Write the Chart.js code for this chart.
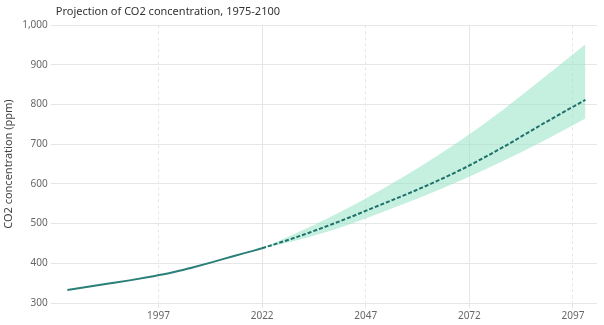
<!DOCTYPE html>
<html>
<head>
<meta charset="utf-8">
<script src="https://cdn.jsdelivr.net/npm/chart.js@4.4.0/dist/chart.umd.min.js"></script>
<style>
  html, body { margin: 0; padding: 0; background: #fff; }
  #wrap { width: 604px; height: 325px; }
</style>
</head>
<body>
<div id="wrap"><canvas id="co2Chart"></canvas></div>
<script>
// historical CO2 (ppm)
var histYears  = [1975, 1980, 1985, 1990, 1995, 2000, 2005, 2010, 2015, 2020, 2022];
var histValues = [333, 341, 349, 357, 366, 376, 389, 403, 418, 432, 438];

// projection with range
var projYears = [2022, 2030, 2040, 2050, 2060, 2070, 2080, 2090, 2100];
var projMid   = [438, 465, 503, 545, 588, 636, 692, 753, 812];
var projHigh  = [438, 475, 525, 581, 643, 711, 786, 868, 952];
var projLow   = [438, 457, 487, 525, 565, 609, 657, 709, 765];

var xTicks = [1997, 2022, 2047, 2072, 2097];
var yTicks = [300, 400, 500, 600, 700, 800, 900, 1000];

function pairs(xs, ys) {
  return xs.map(function(x, i) { return { x: x, y: ys[i] }; });
}

var gridColor = '#e6e6e6';
var fontFamily = "'Noto Sans', sans-serif";

var ctx = document.getElementById('co2Chart').getContext('2d');
var co2Chart = new Chart(ctx, {
  type: 'line',
  data: {
    datasets: [
      {
        label: 'Historical',
        data: pairs(histYears, histValues),
        borderColor: '#2a7f79',
        borderWidth: 2,
        pointRadius: 0,
        fill: false,
        order: 0
      },
      {
        label: 'Projection',
        data: pairs(projYears, projMid),
        borderColor: '#1f6f6b',
        borderWidth: 2,
        borderDash: [4, 2],
        pointRadius: 0,
        fill: false,
        order: 0
      },
      {
        label: 'High',
        data: pairs(projYears, projHigh),
        borderWidth: 0,
        pointRadius: 0,
        backgroundColor: 'rgba(150, 228, 198, 0.55)',
        fill: '+1',
        order: 2
      },
      {
        label: 'Low',
        data: pairs(projYears, projLow),
        borderWidth: 0,
        pointRadius: 0,
        fill: false,
        order: 2
      }
    ]
  },
  options: {
    responsive: true,
    maintainAspectRatio: false,
    animation: false,
    layout: { padding: { left: 2, right: 7, top: 0, bottom: 1 } },
    elements: { line: { cubicInterpolationMode: 'monotone' } },
    plugins: {
      legend: { display: false },
      tooltip: { enabled: false },
      title: {
        display: true,
        text: 'Projection of CO2 concentration, 1975-2100',
        align: 'start',
        fullSize: false,
        color: '#333',
        font: { family: fontFamily, size: 11, weight: 'normal' },
        padding: { top: 5, bottom: 7 }
      }
    },
    scales: {
      x: {
        type: 'linear',
        min: 1972.2,
        max: 2102.8,
        afterBuildTicks: function(axis) {
          axis.ticks = xTicks.map(function(v) { return { value: v }; });
        },
        grid: {
          color: gridColor,
          tickLength: 5
        },
        border: {
          display: false,
          dash: function(c) {
            var v = c.tick ? c.tick.value : 0;
            return (v === 2022 || v === 2072) ? [] : [3, 3];
          }
        },
        ticks: {
          color: '#666',
          font: { family: fontFamily, size: 10 },
          padding: 2,
          maxRotation: 0,
          callback: function(v) { return String(v); }
        }
      },
      y: {
        min: 300,
        max: 1000,
        afterBuildTicks: function(axis) {
          axis.ticks = yTicks.map(function(v) { return { value: v }; });
        },
        grid: {
          color: gridColor,
          tickLength: 5
        },
        border: { display: false },
        title: {
          display: true,
          text: 'CO2 concentration (ppm)',
          color: '#444',
          font: { family: fontFamily, size: 11 },
          padding: { top: 0, bottom: 4 }
        },
        ticks: {
          color: '#666',
          font: { family: fontFamily, size: 10 },
          padding: 3
        }
      }
    }
  }
});
</script>
</body>
</html>
